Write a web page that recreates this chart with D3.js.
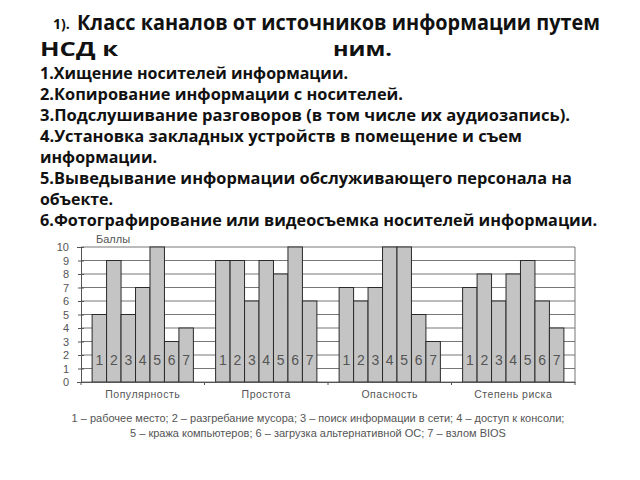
<!DOCTYPE html>
<html>
<head>
<meta charset="utf-8">
<script src="https://cdn.jsdelivr.net/npm/d3@7"></script>
<style>
  body { margin: 0; background: #fff; }
  svg { display: block; }
</style>
</head>
<body>
<div id="chart"></div>
<script>
const groups = ['Популярность', 'Простота', 'Опасность', 'Степень риска'];
const items = ['1', '2', '3', '4', '5', '6', '7'];
const popularity = [5, 9, 5, 7, 10, 3, 4];
const simplicity = [9, 9, 6, 9, 8, 10, 6];
const danger = [7, 6, 7, 10, 10, 5, 3];
const risk = [7, 8, 6, 8, 9, 6, 4];
const yTicks = [0, 1, 2, 3, 4, 5, 6, 7, 8, 9, 10];

const headLines = [
    '1.Хищение носителей информации.',
    '2.Копирование информации с носителей.',
    '3.Подслушивание разговоров (в том числе их аудиозапись).',
    '4.Установка закладных устройств в помещение и съем',
    'информации.',
    '5.Выведывание информации обслуживающего персонала на',
    'объекте.',
    '6.Фотографирование или видеосъемка носителей информации.'
];
const legendLines = [
    '1 – рабочее место; 2 – разгребание мусора; 3 – поиск информации в сети; 4 – доступ к консоли;',
    '5 – кража компьютеров; 6 – загрузка альтернативной ОС; 7 – взлом BIOS'
];

const width = 640;
const height = 480;
const series = [popularity, simplicity, danger, risk];

const svg = d3.select('#chart')
    .append('svg')
    .attr('width', width)
    .attr('height', height);

// header text
const headFont = 'Open Sans, DejaVu Sans, sans-serif';
const title = (txt, x, yy, size, len) => {
    const t = svg.append('text')
        .attr('x', x).attr('y', yy)
        .attr('font-family', headFont).attr('font-size', size).attr('font-weight', 'bold')
        .attr('fill', '#111')
        .text(txt);
    if (len) t.attr('textLength', len).attr('lengthAdjust', 'spacingAndGlyphs');
};
title('1).', 53, 29, 14);
title('Класс каналов от источников информации путем', 77, 30, 21, 523);
title('НСД к', 40, 56, 20, 78);
title('ним.', 333, 56, 20, 59);

const headWidths = [308, 363, 530, 482, 117, 532, 73, 557];
svg.selectAll('text.head')
    .data(headLines)
    .enter()
    .append('text')
    .attr('class', 'head')
    .attr('x', 40)
    .attr('y', (d, i) => 79 + i * 21)
    .attr('font-family', headFont)
    .attr('font-size', 16.5)
    .attr('font-weight', 'bold')
    .attr('fill', '#111')
    .attr('textLength', (d, i) => headWidths[i])
    .attr('lengthAdjust', 'spacingAndGlyphs')
    .text(d => d);

// chart
const plotLeft = 81, plotRight = 575, plotTop = 247, plotBottom = 382;
const chartFont = 'Liberation Sans, Arial, sans-serif';

const x0 = d3.scaleBand()
    .domain(groups)
    .range([plotLeft, plotRight])
    .paddingInner(0.18)
    .paddingOuter(0.09);

const x1 = d3.scaleBand()
    .domain(items)
    .range([0, x0.bandwidth()]);

const y = d3.scaleLinear()
    .domain([0, 10])
    .range([plotBottom, plotTop]);

// grid lines
svg.append('g')
    .selectAll('line')
    .data(yTicks)
    .enter()
    .append('line')
    .attr('x1', plotLeft).attr('x2', plotRight)
    .attr('y1', d => y(d)).attr('y2', d => y(d))
    .attr('stroke', '#777')
    .attr('stroke-width', 1);

svg.append('line')
    .attr('x1', plotRight).attr('x2', plotRight)
    .attr('y1', plotTop).attr('y2', plotBottom)
    .attr('stroke', '#777');

// bars
const groupSel = svg.selectAll('g.group')
    .data(groups)
    .enter()
    .append('g')
    .attr('class', 'group')
    .attr('transform', d => 'translate(' + x0(d) + ',0)');

groupSel.selectAll('rect')
    .data((d, i) => series[i])
    .enter()
    .append('rect')
    .attr('x', (d, i) => x1(items[i]))
    .attr('y', d => y(d))
    .attr('width', x1.bandwidth())
    .attr('height', d => plotBottom - y(d))
    .attr('fill', '#c4c4c4')
    .attr('stroke', '#2a2a2a')
    .attr('stroke-width', 1);

groupSel.selectAll('text')
    .data(items)
    .enter()
    .append('text')
    .attr('x', d => x1(d) + x1.bandwidth() / 2)
    .attr('y', 365)
    .attr('text-anchor', 'middle')
    .attr('font-family', chartFont)
    .attr('font-size', 14)
    .attr('fill', '#555')
    .text(d => d);

// y axis
const yAxis = d3.axisLeft(y)
    .tickValues(yTicks)
    .tickSize(4)
    .tickPadding(8);

const yG = svg.append('g')
    .attr('transform', 'translate(' + plotLeft + ',0)')
    .call(yAxis);
yG.select('.domain').attr('stroke', '#555');
yG.selectAll('.tick line').attr('stroke', '#555').attr('x2', 3).attr('x1', -3);
yG.selectAll('.tick text')
    .attr('font-family', chartFont)
    .attr('font-size', 11)
    .attr('fill', '#555');

// x axis
const xG = svg.append('g')
    .attr('transform', 'translate(0,' + plotBottom + ')')
    .call(d3.axisBottom(x0).tickSize(0).tickPadding(9));
xG.select('.domain').attr('stroke', '#555');
xG.selectAll('.tick text')
    .attr('font-family', chartFont)
    .attr('font-size', 10.5)
    .attr('letter-spacing', 0.5)
    .attr('fill', '#555');

const bounds = [0, 1, 2, 3, 4].map(i => plotLeft + x0.step() * i);
xG.selectAll('line.sep')
    .data(bounds)
    .enter()
    .append('line')
    .attr('class', 'sep')
    .attr('x1', d => d).attr('x2', d => d)
    .attr('y1', 0).attr('y2', 3)
    .attr('stroke', '#555');

svg.append('text')
    .attr('x', 96).attr('y', 243)
    .attr('font-family', chartFont)
    .attr('font-size', 11)
    .attr('fill', '#555')
    .text('Баллы');

// legend
svg.selectAll('text.legend')
    .data(legendLines)
    .enter()
    .append('text')
    .attr('class', 'legend')
    .attr('x', 318)
    .attr('y', (d, i) => 422 + i * 15)
    .attr('text-anchor', 'middle')
    .attr('font-family', chartFont)
    .attr('font-size', 11)
    .attr('fill', '#555')
    .text(d => d);
</script>
</body>
</html>
